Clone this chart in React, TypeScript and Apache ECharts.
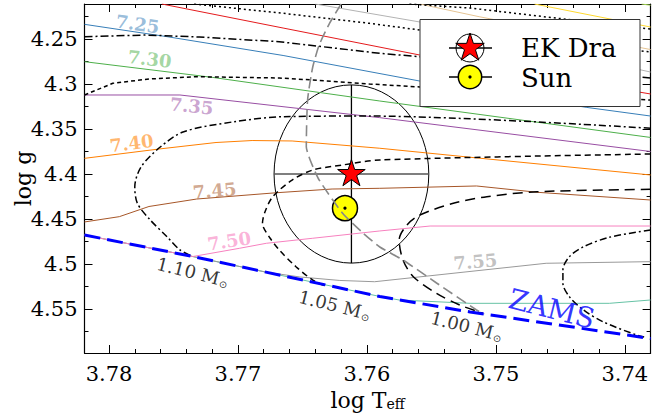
import React, { useEffect, useRef } from "react";
import * as echarts from "echarts";

const FONT = "DejaVu Serif";

// axis ranges (log Teff inverted, log g inverted)
const X_MIN = 3.738;
const X_MAX = 3.7819;
const Y_MIN = 4.2111;
const Y_MAX = 4.5989;

const xMajorTicks = [3.74, 3.75, 3.76, 3.77, 3.78];
const yMajorTicks = [4.25, 4.3, 4.35, 4.4, 4.45, 4.5, 4.55];
const xMinorTicks = Array.from({ length: 21 }, (_, i) => +(3.74 + 0.002 * i).toFixed(3));
const yMinorTicks = Array.from({ length: 15 }, (_, i) => +(4.225 + 0.025 * i).toFixed(3));

// ZAMS
const zams = [[3.7819, 4.4678], [3.7735, 4.4917], [3.7668, 4.5122], [3.759, 4.5361], [3.7559, 4.5438], [3.752, 4.5533], [3.738, 4.5828]];

// isochrones (log age)
const isoLightGreen = [[3.7387, 4.2111], [3.738, 4.2125]];
const isoYellow = [[3.747, 4.2111], [3.738, 4.2367]];
const isoTan = [[3.7559, 4.2111], [3.7513, 4.2252], [3.738, 4.2617]];
const isoTopGrey = [[3.7640, 4.2111], [3.7559, 4.2311], [3.738, 4.2867]];
const isoRed = [[3.7759, 4.2111], [3.7665, 4.2378], [3.7559, 4.2678], [3.738, 4.3111]];
const iso725 = [[3.7819, 4.2337], [3.7755, 4.2474], [3.7665, 4.2683], [3.7559, 4.2967], [3.743, 4.3259], [3.738, 4.3356]];
const iso730 = [[3.7819, 4.2752], [3.772, 4.2926], [3.759, 4.3189], [3.738, 4.3594]];
const iso735 = [[3.7819, 4.3122], [3.7745, 4.3122], [3.759, 4.3374], [3.738, 4.375]];
const iso740 = [[3.7819, 4.3826], [3.7761, 4.3722], [3.7717, 4.365], [3.7689, 4.3628], [3.7658, 4.3633], [3.759, 4.3714], [3.752, 4.3814], [3.738, 4.4011]];
const iso745 = [[3.7819, 4.4533], [3.7792, 4.4474], [3.7769, 4.4361], [3.7732, 4.4278], [3.767, 4.4208], [3.7627, 4.4167], [3.759, 4.4159], [3.7515, 4.4133], [3.7468, 4.4203], [3.738, 4.4289]];
const iso750 = [[3.7819, 4.4678], [3.7735, 4.4917], [3.7699, 4.4826], [3.7678, 4.477], [3.7642, 4.4714], [3.759, 4.4633], [3.7551, 4.4578], [3.738, 4.4578]];
const iso755 = [[3.7819, 4.4678], [3.7735, 4.4917], [3.7678, 4.5091], [3.7652, 4.5144], [3.7621, 4.5183], [3.7594, 4.5197], [3.7461, 4.4992], [3.738, 4.4974]];
const isoTeal = [[3.7819, 4.4678], [3.7735, 4.4917], [3.7668, 4.5122], [3.759, 4.5361], [3.7575, 4.54], [3.752, 4.5437], [3.7412, 4.5437], [3.738, 4.54]];

// evolutionary tracks
const trackDotA = [[3.7567, 4.2111], [3.752, 4.2156], [3.7474, 4.2233], [3.738, 4.2389]];
const trackDotB = [[3.7734, 4.2111], [3.7665, 4.2214], [3.7598, 4.2326], [3.7559, 4.24], [3.738, 4.2644]];
const trackDashDotA = [[3.7819, 4.2474], [3.7771, 4.2456], [3.773, 4.2478], [3.7668, 4.253], [3.759, 4.2659], [3.7559, 4.2697], [3.738, 4.2933]];
const trackDashA = [[3.7819, 4.3122], [3.7797, 4.2992], [3.7769, 4.2944], [3.7732, 4.2919], [3.7668, 4.2933], [3.7642, 4.2956], [3.7598, 4.3], [3.7559, 4.3033], [3.738, 4.3178]];
const track110 = [[3.738, 4.3492], [3.7598, 4.3356], [3.7665, 4.3363], [3.7703, 4.3419], [3.7742, 4.353], [3.776, 4.3697], [3.7775, 4.3919], [3.778, 4.4141], [3.7778, 4.4326], [3.7768, 4.4511], [3.7755, 4.4697], [3.7745, 4.4844], [3.7735, 4.4917]];
const track105 = [[3.738, 4.3778], [3.759, 4.3844], [3.7619, 4.39], [3.7642, 4.3956], [3.7658, 4.4067], [3.7673, 4.4252], [3.7679, 4.4419], [3.7681, 4.4548], [3.7675, 4.4714], [3.7668, 4.4844], [3.7655, 4.503], [3.7642, 4.5178], [3.7631, 4.5252]];
const track100 = [[3.738, 4.417], [3.7468, 4.4197], [3.7507, 4.4252], [3.7533, 4.4326], [3.7559, 4.4456], [3.7569, 4.4567], [3.7575, 4.4733], [3.7572, 4.4956], [3.7564, 4.5141], [3.7546, 4.5326], [3.7528, 4.5456], [3.751, 4.5548]];
const trackDashDotB = [[3.738, 4.4622], [3.7412, 4.4703], [3.7432, 4.4808], [3.7443, 4.4919], [3.7448, 4.5067], [3.7448, 4.5214], [3.7443, 4.5363], [3.7432, 4.5511], [3.7417, 4.5641], [3.7391, 4.5789], [3.7385, 4.5811]];
const greyTrack = [[3.762, 4.2111], [3.7629, 4.2326], [3.7637, 4.2567], [3.7642, 4.2811], [3.7646, 4.3178], [3.7647, 4.3697], [3.7644, 4.3844], [3.7637, 4.4067], [3.7619, 4.4433], [3.7603, 4.4656], [3.759, 4.4811], [3.7572, 4.4956], [3.7546, 4.5211], [3.7515, 4.5511], [3.7509, 4.5556]];

// stars
const ekDra = [3.7612, 4.4];
const ekDraErr = [0.006, 0.099];
const sun = [3.7617, 4.438];

// labels
const isoLabelText = ["7.25", "7.30", "7.35", "7.40", "7.45", "7.50", "7.55"];
const isoLabelPos = [[3.77778, 4.2333], [3.77685, 4.2722], [3.77359, 4.3244], [3.77825, 4.3656], [3.77181, 4.4183], [3.77068, 4.4744], [3.7516, 4.4972]];
const isoLabelColor = ["rgba(55,126,184,0.65)", "rgba(77,175,74,0.65)", "rgba(152,78,163,0.65)", "rgba(255,127,0,0.7)", "rgba(166,86,40,0.65)", "rgba(247,129,191,0.75)", "rgba(153,153,153,0.75)"];
const isoLabelRot = [-8, -7, -6, 7, 5, 9, 5];
const massLabelText = ["1.10", "1.05", "1.00"];
const massLabelPos = [[3.77351, 4.5089], [3.7625, 4.5456], [3.75226, 4.5689]];
const zamsLabelPos = [3.74566, 4.55];

function starPoints(cx: number, cy: number, R: number) {
  const r = R * 0.381966;
  const pts: number[][] = [];
  for (let i = 0; i < 10; i++) {
    const a = -Math.PI / 2 + (i * Math.PI) / 5;
    const rad = i % 2 === 0 ? R : r;
    pts.push([cx + rad * Math.cos(a), cy + rad * Math.sin(a)]);
  }
  return pts;
}

function line(data: number[][], color: string, width: number, type: any, smooth = 0) {
  return {
    type: "line",
    data,
    symbol: "none",
    showSymbol: false,
    smooth,
    silent: true,
    lineStyle: { color, width, type, cap: "butt" },
    xAxisIndex: 0,
    yAxisIndex: 0,
  };
}

function xAxis(gridIndex: number, position: string, major: boolean, withLabel: boolean) {
  return {
    type: "value",
    gridIndex,
    position,
    inverse: true,
    min: X_MIN,
    max: X_MAX,
    splitLine: { show: false },
    axisLine: { show: major, onZero: false, lineStyle: { color: "#000", width: 1.2 } },
    axisTick: {
      show: true,
      inside: true,
      length: major ? 8 : 4,
      customValues: major ? xMajorTicks : xMinorTicks,
      lineStyle: { color: "#000", width: 1 },
    },
    axisLabel: withLabel
      ? {
          show: true,
          customValues: xMajorTicks,
          margin: 10,
          fontFamily: FONT,
          fontSize: 21,
          color: "#000",
          formatter: (v: number) => v.toFixed(2),
        }
      : { show: false },
    name: withLabel ? "log T{sub|eff}" : "",
    nameLocation: "middle",
    nameGap: 36,
    nameMoveOverlap: false,
    nameTextStyle: {
      fontFamily: FONT,
      fontSize: 22,
      color: "#000",
      verticalAlign: "top",
      rich: { sub: { fontFamily: FONT, fontSize: 14, color: "#000", verticalAlign: "bottom", padding: [8, 0, 0, 0] } },
    },
  };
}

function yAxis(gridIndex: number, position: string, major: boolean, withLabel: boolean) {
  return {
    type: "value",
    gridIndex,
    position,
    inverse: true,
    min: Y_MIN,
    max: Y_MAX,
    splitLine: { show: false },
    axisLine: { show: major, onZero: false, lineStyle: { color: "#000", width: 1.2 } },
    axisTick: {
      show: true,
      inside: true,
      length: major ? 8 : 4,
      customValues: major ? yMajorTicks : yMinorTicks,
      lineStyle: { color: "#000", width: 1 },
    },
    axisLabel: withLabel
      ? {
          show: true,
          customValues: yMajorTicks,
          margin: 7,
          fontFamily: FONT,
          fontSize: 21,
          color: "#000",
        }
      : { show: false },
    name: withLabel ? "log g" : "",
    nameLocation: "middle",
    nameGap: 50,
    nameMoveOverlap: false,
    nameTextStyle: { fontFamily: FONT, fontSize: 22, color: "#000" },
  };
}

export default function App() {
  const ref = useRef<HTMLDivElement>(null);
  useEffect(() => {
    if (!ref.current) return;
    const chart = echarts.init(ref.current, null, { renderer: "svg" });
    const gridBox = { left: 84.5, right: 21.4, top: 4, bottom: 66, containLabel: false, outerBoundsMode: "none" };

    const series: any[] = [
      line(isoLightGreen, "#a6d854", 1, "solid"),
      line(isoYellow, "#ffd92f", 1, "solid"),
      line(isoTan, "#e5c494", 1, "solid"),
      line(isoTopGrey, "#b3b3b3", 1, "solid"),
      line(isoRed, "#e41a1c", 1, "solid"),
      line(iso725, "#377eb8", 1, "solid"),
      line(iso730, "#4daf4a", 1, "solid"),
      line(iso735, "#984ea3", 1, "solid"),
      line(iso740, "#ff7f00", 1, "solid"),
      line(iso745, "#a65628", 1, "solid"),
      line(isoTeal, "#66c2a5", 1, "solid"),
      line(iso755, "#999999", 1, "solid"),
      line(iso750, "#f781bf", 1, "solid"),
      line(trackDotA, "#000", 1.5, [2, 3]),
      line(trackDotB, "#000", 1.5, [2, 3]),
      line(trackDashDotA, "#000", 1.5, [8, 3, 2, 3]),
      line(trackDashA, "#000", 1.5, [4, 3]),
      line(track110, "#000", 1.5, [7, 3, 2, 3], 0.3),
      line(track105, "#000", 1.5, [6, 4], 0.3),
      line(track100, "#000", 1.5, [10, 6], 0.3),
      line(trackDashDotB, "#000", 1.5, [7, 3, 2, 3], 0.3),
      line(greyTrack, "#888888", 1.6, [11, 5], 0.2),
      line(zams, "#0000ff", 3, [16, 7]),
      {
        type: "custom",
        xAxisIndex: 0,
        yAxisIndex: 0,
        silent: true,
        clip: false,
        data: [[ekDra[0], ekDra[1], ekDraErr[0], ekDraErr[1]]],
        encode: { x: 0, y: 1 },
        renderItem: (_p: any, api: any) => {
          const x = api.value(0), y = api.value(1), dx = api.value(2), dy = api.value(3);
          const c = api.coord([x, y]);
          const px = api.coord([x + dx, y]);
          const py = api.coord([x, y + dy]);
          const rx = Math.abs(px[0] - c[0]);
          const ry = Math.abs(py[1] - c[1]);
          return {
            type: "group",
            children: [
              { type: "ellipse", shape: { cx: c[0], cy: c[1], rx, ry }, style: { fill: "none", stroke: "#000", lineWidth: 1 } },
              { type: "line", shape: { x1: c[0] - rx, y1: c[1], x2: c[0] + rx, y2: c[1] }, style: { stroke: "#555", lineWidth: 1.3 } },
              { type: "line", shape: { x1: c[0], y1: c[1] - ry, x2: c[0], y2: c[1] + ry }, style: { stroke: "#000", lineWidth: 1.3 } },
            ],
          };
        },
      },
      {
        type: "custom",
        xAxisIndex: 0,
        yAxisIndex: 0,
        silent: true,
        clip: false,
        data: [sun],
        encode: { x: 0, y: 1 },
        renderItem: (_p: any, api: any) => {
          const c = api.coord([api.value(0), api.value(1)]);
          return {
            type: "group",
            children: [
              { type: "circle", shape: { cx: c[0], cy: c[1], r: 12.5 }, style: { fill: "#ffff00", stroke: "#000", lineWidth: 1.5 } },
              { type: "circle", shape: { cx: c[0], cy: c[1], r: 1.6 }, style: { fill: "#000" } },
            ],
          };
        },
      },
      {
        type: "custom",
        xAxisIndex: 0,
        yAxisIndex: 0,
        silent: true,
        clip: false,
        data: [ekDra],
        encode: { x: 0, y: 1 },
        renderItem: (_p: any, api: any) => {
          const c = api.coord([api.value(0), api.value(1)]);
          return {
            type: "polygon",
            shape: { points: starPoints(c[0], c[1], 14.5) },
            style: { fill: "#ff0000", stroke: "#000", lineWidth: 1 },
          };
        },
      },
      {
        type: "scatter",
        xAxisIndex: 0,
        yAxisIndex: 0,
        silent: true,
        symbolSize: 1,
        itemStyle: { color: "rgba(0,0,0,0)" },
        z: 5,
        data: isoLabelText.map((t, i) => ({
          value: isoLabelPos[i],
          label: { formatter: t, color: isoLabelColor[i], rotate: isoLabelRot[i] },
        })),
        label: { show: true, position: "inside", fontFamily: FONT, fontWeight: "bold", fontSize: 18 },
      },
      {
        type: "scatter",
        xAxisIndex: 0,
        yAxisIndex: 0,
        silent: true,
        symbolSize: 1,
        itemStyle: { color: "rgba(0,0,0,0)" },
        z: 5,
        data: massLabelText.map((t, i) => ({
          value: massLabelPos[i],
          label: { formatter: `{m|${t} M}{s|⊙}` },
        })),
        label: {
          show: true,
          position: "inside",
          rotate: -14,
          rich: {
            m: { fontFamily: FONT, fontSize: 18, color: "#000" },
            s: { fontFamily: "DejaVu Sans", fontSize: 10, color: "#000", verticalAlign: "bottom", padding: [9, 0, 0, 1] },
          },
        },
      },
      {
        type: "scatter",
        xAxisIndex: 0,
        yAxisIndex: 0,
        silent: true,
        symbolSize: 1,
        itemStyle: { color: "rgba(0,0,0,0)" },
        z: 5,
        data: [{ value: zamsLabelPos, label: { formatter: "ZAMS" } }],
        label: { show: true, position: "inside", rotate: -14, fontFamily: FONT, fontSize: 28, color: "#0000ff" },
      },
    ];

    const lz = { z: 100, zlevel: 0 };
    chart.setOption({
      animation: false,
      backgroundColor: "#fff",
      grid: [{ ...gridBox }, { ...gridBox }],
      xAxis: [
        xAxis(0, "bottom", true, true),
        xAxis(0, "top", true, false),
        xAxis(1, "bottom", false, false),
        xAxis(1, "top", false, false),
      ],
      yAxis: [
        yAxis(0, "left", true, true),
        yAxis(0, "right", true, false),
        yAxis(1, "left", false, false),
        yAxis(1, "right", false, false),
      ],
      series,
      graphic: {
        elements: [
          { ...lz, type: "rect", shape: { x: 420, y: 19.5, width: 220, height: 87 }, style: { fill: "#fff", stroke: "#333", lineWidth: 1 } },
          { ...lz, z: 101, type: "line", shape: { x1: 449, y1: 48, x2: 492, y2: 48 }, style: { stroke: "#000", lineWidth: 1.5 } },
          { ...lz, z: 102, type: "circle", shape: { cx: 470, cy: 48, r: 14 }, style: { fill: "none", stroke: "#000", lineWidth: 1 } },
          { ...lz, z: 103, type: "polygon", shape: { points: starPoints(470, 48, 15) }, style: { fill: "#ff0000", stroke: "#000", lineWidth: 1 } },
          { ...lz, z: 101, type: "line", shape: { x1: 449, y1: 77, x2: 492, y2: 77 }, style: { stroke: "#000", lineWidth: 1.5 } },
          { ...lz, z: 102, type: "circle", shape: { cx: 470, cy: 77, r: 11.7 }, style: { fill: "#ffff00", stroke: "#000", lineWidth: 1.5 } },
          { ...lz, z: 103, type: "circle", shape: { cx: 470, cy: 77, r: 1.6 }, style: { fill: "#000" } },
          { ...lz, z: 103, type: "text", x: 521, y: 48, style: { text: "EK Dra", fontFamily: FONT, fontSize: 26, fill: "#000", textAlign: "left", textVerticalAlign: "middle" } },
          { ...lz, z: 103, type: "text", x: 521, y: 78, style: { text: "Sun", fontFamily: FONT, fontSize: 26, fill: "#000", textAlign: "left", textVerticalAlign: "middle" } },
        ],
      },
    });
    return () => chart.dispose();
  }, []);
  return <div ref={ref} style={{ position: "fixed", left: 0, top: 0, width: 672, height: 419, background: "#fff" }} />;
}
